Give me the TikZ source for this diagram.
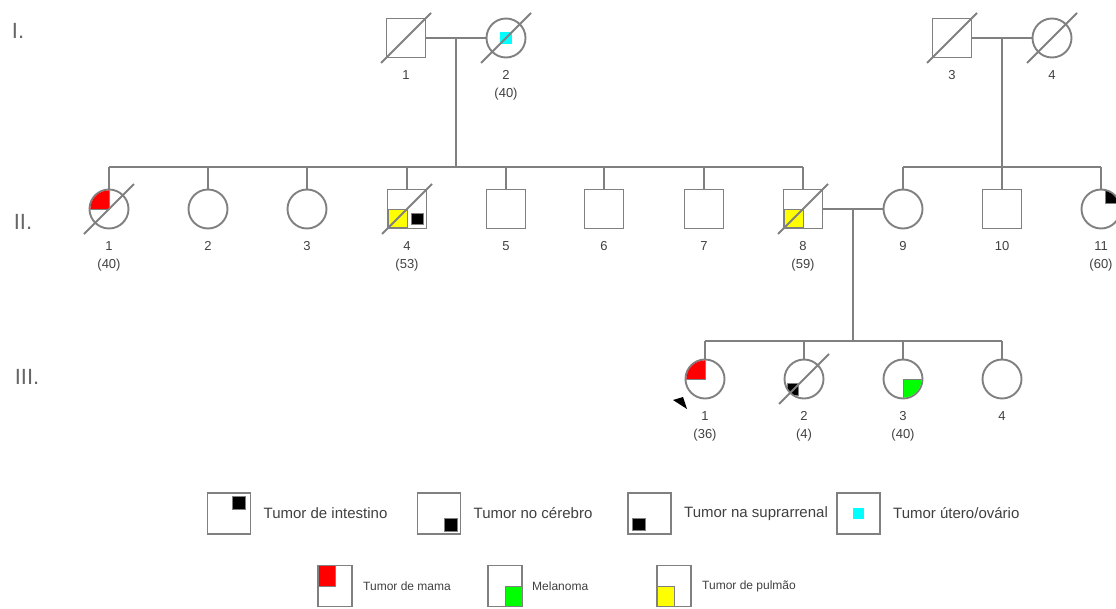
\documentclass[tikz,border=0pt]{standalone}
\usepackage{fontspec}
\setmainfont{Liberation Sans}
\usetikzlibrary{positioning}
\definecolor{pedgray}{RGB}{128,128,128}
\definecolor{textgray}{RGB}{64,64,64}
\definecolor{uterus}{RGB}{0,255,255}
\definecolor{breast}{RGB}{255,0,0}
\definecolor{melanoma}{RGB}{0,255,0}
\definecolor{lung}{RGB}{255,255,0}

\begin{document}
\begin{tikzpicture}[x=1pt, y=-1pt,
    line/.style={draw=pedgray, line width=1.9pt},
    male/.style={line, rectangle, minimum size=39pt, inner sep=0pt},
    female/.style={line, circle, minimum size=39pt, inner sep=0pt},
    idnum/.style={text=textgray, inner sep=0pt, font=\fontsize{13}{15}\selectfont},
    gen/.style={text=textgray!80, inner sep=0pt, font=\fontsize{22}{26}\selectfont},
    quarter/.style={draw=pedgray, line width=1pt},
    legbox/.style={line, rectangle, inner sep=0pt, outer sep=0pt, minimum width=43pt, minimum height=41pt},
    legboxsmall/.style={legbox, line width=1.5pt, minimum width=34pt, minimum height=41pt},
    legtext/.style={text=textgray, inner sep=0pt, anchor=west, font=\fontsize{15}{18}\selectfont},
    legtextsmall/.style={legtext, font=\fontsize{12}{14}\selectfont}]
  % An individual with its number below: #1 = node name, #2 = male or female, #3 = center, #4 = number.
  \newcommand{\person}[4]{%
    \node[#2] (#1) at (#3) {};
    \node[idnum, below=12pt of #1] (#1-n) {#4};}
  % Age at diagnosis under the number: #1 = node name, #2 = age.
  \newcommand{\diagage}[2]{\node[idnum, below=8pt of #1-n] (#1-a) {(#2)};}
  % Slash of a deceased individual.
  \newcommand{\deceased}[1]{\draw[line] (#1.center) ++(-25,25) -- ++(50,-50);}
  % Quarter of a circle: #1 = node, #2 = colour, #3, #4 = direction of the corner (y downwards).
  \newcommand{\circquarter}[4]{%
    \begin{scope}
      \clip (#1.center) circle[radius=18.6];
      \filldraw[quarter, fill=#2] (#1.center) rectangle ++(#3*20,#4*20);
    \end{scope}}

  \useasboundingbox (0,0) rectangle (1116,608);

  % generations
  \node[gen] (g1) at (18,31) {I.};
  \node[gen] (g2) at (23,222) {II.};
  \node[gen] (g3) at (27,377) {III.};

  % generation I
  \person{i1}{male}{406,38}{1}
  \person{i2}{female}{506,38}{2}
  \diagage{i2}{40}
  \person{i3}{male}{952,38}{3}
  \person{i4}{female}{1052,38}{4}

  % generation II
  \person{ii1}{female}{109,209}{1}
  \diagage{ii1}{40}
  \person{ii2}{female}{208,209}{2}
  \person{ii3}{female}{307,209}{3}
  \person{ii4}{male}{407,209}{4}
  \diagage{ii4}{53}
  \person{ii5}{male}{506,209}{5}
  \person{ii6}{male}{604,209}{6}
  \person{ii7}{male}{704,209}{7}
  \person{ii8}{male}{803,209}{8}
  \diagage{ii8}{59}
  \person{ii9}{female}{903,209}{9}
  \person{ii10}{male}{1002,209}{10}
  \person{ii11}{female}{1101,209}{11}
  \diagage{ii11}{60}

  % generation III
  \person{iii1}{female}{705,379}{1}
  \diagage{iii1}{36}
  \person{iii2}{female}{804,379}{2}
  \diagage{iii2}{4}
  \person{iii3}{female}{903,379}{3}
  \diagage{iii3}{40}
  \person{iii4}{female}{1002,379}{4}

  % couples and sibships
  \coordinate (sib2) at (0,167);
  \coordinate (sib3) at (0,341);
  \draw[line] (i1) -- coordinate (c1) (i2);
  \draw[line] (c1) -- (c1 |- sib2);
  \draw[line] (ii1.north |- sib2) -- (ii8.north |- sib2);
  \foreach \c in {ii1,ii2,ii3,ii4,ii5,ii6,ii7,ii8}
    \draw[line] (\c.north |- sib2) -- (\c);

  \draw[line] (i3) -- coordinate (c2) (i4);
  \draw[line] (c2) -- (c2 |- sib2);
  \draw[line] (ii9.north |- sib2) -- (ii11.north |- sib2);
  \foreach \c in {ii9,ii10,ii11}
    \draw[line] (\c.north |- sib2) -- (\c);

  \draw[line] (ii8) -- coordinate (c3) (ii9);
  \draw[line] (c3) -- (c3 |- sib3);
  \draw[line] (iii1.north |- sib3) -- (iii4.north |- sib3);
  \foreach \c in {iii1,iii2,iii3,iii4}
    \draw[line] (\c.north |- sib3) -- (\c);

  % tumours
  \fill[uterus] (i2.center) ++(-6,-6) rectangle ++(12,12);
  \circquarter{ii1}{breast}{-1}{-1}
  \filldraw[quarter, fill=lung] (ii4.center) rectangle ++(-18.6,18.6);
  \filldraw[quarter, fill=black, line width=0.8pt] (ii4.center) ++(4,4) rectangle ++(12,11);
  \filldraw[quarter, fill=lung] (ii8.center) rectangle ++(-18.6,18.6);
  \begin{scope}
    \clip (ii11.center) circle[radius=18.6];
    \filldraw[quarter, fill=black, line width=0.8pt] (ii11.center) ++(4,-6) rectangle ++(14,-13);
  \end{scope}
  \circquarter{iii1}{breast}{-1}{-1}
  \begin{scope}
    \clip (iii2.center) circle[radius=18.6];
    \filldraw[quarter, fill=black, line width=0.8pt] (iii2.center) ++(-17,4) rectangle ++(11,12);
  \end{scope}
  \circquarter{iii3}{melanoma}{1}{1}

  % deceased
  \foreach \c in {i1,i2,i3,i4,ii1,ii4,ii8,iii2}
    {\deceased{\c}}

  % proband
  \fill[black] (673,400) -- (683,397) -- (687,409) -- cycle;

  % legend
  \node[legbox] (lg-int) at (229,513.5) {};
  \node[legtext, right=13pt of lg-int] (lg-int-t) {Tumor de intestino};
  \node[legbox] (lg-brain) at (439,513.5) {};
  \node[legtext, right=13pt of lg-brain] (lg-brain-t) {Tumor no cérebro};
  \node[legbox] (lg-adr) at (649.5,513.5) {};
  \node[legtext, right=13pt of lg-adr] (lg-adr-t) {Tumor na suprarrenal};
  \node[legbox] (lg-ut) at (858.5,513.5) {};
  \node[legtext, right=13pt of lg-ut] (lg-ut-t) {Tumor útero/ovário};
  \filldraw[quarter, fill=black] (lg-int.north east) ++(-5,3) rectangle ++(-13,13);
  \filldraw[quarter, fill=black] (lg-brain.south east) ++(-3,-3) rectangle ++(-13,-13);
  \filldraw[quarter, fill=black] (lg-adr.south west) ++(4,-4) rectangle ++(13,-12);
  \fill[uterus] (lg-ut.center) ++(-5.5,-5.5) rectangle ++(11,11);

  \node[legboxsmall] (lg-breast) at (335,586) {};
  \node[legtextsmall, right=11pt of lg-breast] (lg-breast-t) {Tumor de mama};
  \node[legboxsmall] (lg-mel) at (505,586) {};
  \node[legtextsmall, right=10pt of lg-mel] (lg-mel-t) {Melanoma};
  \node[legboxsmall] (lg-lung) at (674,586) {};
  \node[legtextsmall, right=11pt of lg-lung] (lg-lung-t) {Tumor de pulmão};
  \filldraw[quarter, fill=breast] (lg-breast.north west) rectangle (lg-breast.center);
  \filldraw[quarter, fill=melanoma] (lg-mel.center) rectangle (lg-mel.south east);
  \filldraw[quarter, fill=lung] (lg-lung.south west) rectangle (lg-lung.center);
\end{tikzpicture}
\end{document}
